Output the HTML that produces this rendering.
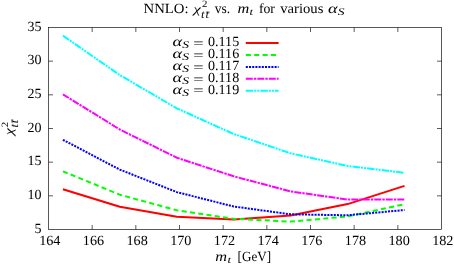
<!DOCTYPE html>
<html><head><meta charset="utf-8"><title>chart</title>
<style>
html,body{margin:0;padding:0;background:#fff;}
body{width:454px;height:266px;overflow:hidden;font-family:"Liberation Serif",serif;}
svg{display:block;will-change:transform;}
text{font-family:"Liberation Serif",serif;fill:#000;text-rendering:geometricPrecision;}
.i{font-style:italic;}
</style></head><body>
<svg width="454" height="266" viewBox="0 0 454 266">
<rect width="454" height="266" fill="#fff"/>

<g stroke="#000" stroke-width="0.65" fill="none">
<rect x="48.5" y="27.5" width="393.0" height="202.0"/>
<path d="M92.17 229.5v-4.5M92.17 27.5v4.5"/>
<path d="M135.83 229.5v-4.5M135.83 27.5v4.5"/>
<path d="M179.50 229.5v-4.5M179.50 27.5v4.5"/>
<path d="M223.17 229.5v-4.5M223.17 27.5v4.5"/>
<path d="M266.83 229.5v-4.5M266.83 27.5v4.5"/>
<path d="M310.50 229.5v-4.5M310.50 27.5v4.5"/>
<path d="M354.17 229.5v-4.5M354.17 27.5v4.5"/>
<path d="M397.83 229.5v-4.5M397.83 27.5v4.5"/>
<path d="M48.5 195.83h4.5M441.5 195.83h-4.5"/>
<path d="M48.5 162.17h4.5M441.5 162.17h-4.5"/>
<path d="M48.5 128.50h4.5M441.5 128.50h-4.5"/>
<path d="M48.5 94.83h4.5M441.5 94.83h-4.5"/>
<path d="M48.5 61.17h4.5M441.5 61.17h-4.5"/>
</g>
<polyline points="62.9,189.2 119.8,206.8 176.8,216.8 233.7,219.5 290.6,215.5 347.6,204.1 404.5,185.9" fill="none" stroke="#ff0000" stroke-width="2" stroke-linejoin="round"/>
<polyline points="62.9,171.3 119.8,194.7 176.8,210.3 233.7,218.8 290.6,221.6 347.6,216.4 404.5,204.3" fill="none" stroke="#00ff00" stroke-width="2" stroke-linejoin="round" stroke-dasharray="5.1 3.27"/>
<polyline points="62.9,139.8 119.8,169.6 176.8,192.1 233.7,206.5 290.6,214.3 347.6,215.3 404.5,210.0" fill="none" stroke="#0000ff" stroke-width="2" stroke-linejoin="round" stroke-dasharray="2.05 1.15"/>
<polyline points="62.9,94.3 119.8,129.5 176.8,157.7 233.7,176.3 290.6,191.4 347.6,199.5 404.5,199.5" fill="none" stroke="#ff00ff" stroke-width="2" stroke-linejoin="round" stroke-dasharray="7.0 1.05 2.4 1.05"/>
<polyline points="62.9,35.6 119.8,75.1 176.8,108.3 233.7,134.0 290.6,153.3 347.6,166.0 404.5,172.8" fill="none" stroke="#00ffff" stroke-width="2" stroke-linejoin="round" stroke-dasharray="7.4 1.05 2.0 1.05 2.0 1.1"/>
<path d="M245.8 43.1H278.6" fill="none" stroke="#ff0000" stroke-width="2"/>
<text x="172.6" y="46.1" font-size="14" textLength="9.6" lengthAdjust="spacingAndGlyphs" class="i">α</text>
<text x="182.2" y="48.2" font-size="10" textLength="6.8" lengthAdjust="spacingAndGlyphs" class="i">S</text>
<text x="193.2" y="47.8" font-size="14" textLength="10.4" lengthAdjust="spacingAndGlyphs">=</text>
<text x="208" y="46.1" font-size="14" textLength="31.2" lengthAdjust="spacingAndGlyphs">0.115</text>
<path d="M245.8 55.0H278.6" fill="none" stroke="#00ff00" stroke-width="2" stroke-dasharray="5.1 3.27"/>
<text x="172.6" y="58.0" font-size="14" textLength="9.6" lengthAdjust="spacingAndGlyphs" class="i">α</text>
<text x="182.2" y="60.1" font-size="10" textLength="6.8" lengthAdjust="spacingAndGlyphs" class="i">S</text>
<text x="193.2" y="59.7" font-size="14" textLength="10.4" lengthAdjust="spacingAndGlyphs">=</text>
<text x="208" y="58.0" font-size="14" textLength="31.2" lengthAdjust="spacingAndGlyphs">0.116</text>
<path d="M245.8 66.9H278.6" fill="none" stroke="#0000ff" stroke-width="2" stroke-dasharray="2.05 1.15"/>
<text x="172.6" y="69.9" font-size="14" textLength="9.6" lengthAdjust="spacingAndGlyphs" class="i">α</text>
<text x="182.2" y="72.0" font-size="10" textLength="6.8" lengthAdjust="spacingAndGlyphs" class="i">S</text>
<text x="193.2" y="71.6" font-size="14" textLength="10.4" lengthAdjust="spacingAndGlyphs">=</text>
<text x="208" y="69.9" font-size="14" textLength="31.2" lengthAdjust="spacingAndGlyphs">0.117</text>
<path d="M245.8 78.8H278.6" fill="none" stroke="#ff00ff" stroke-width="2" stroke-dasharray="7.0 1.05 2.4 1.05"/>
<text x="172.6" y="81.8" font-size="14" textLength="9.6" lengthAdjust="spacingAndGlyphs" class="i">α</text>
<text x="182.2" y="83.9" font-size="10" textLength="6.8" lengthAdjust="spacingAndGlyphs" class="i">S</text>
<text x="193.2" y="83.5" font-size="14" textLength="10.4" lengthAdjust="spacingAndGlyphs">=</text>
<text x="208" y="81.8" font-size="14" textLength="31.2" lengthAdjust="spacingAndGlyphs">0.118</text>
<path d="M245.8 90.7H278.6" fill="none" stroke="#00ffff" stroke-width="2" stroke-dasharray="7.4 1.05 2.0 1.05 2.0 1.1"/>
<text x="172.6" y="93.7" font-size="14" textLength="9.6" lengthAdjust="spacingAndGlyphs" class="i">α</text>
<text x="182.2" y="95.8" font-size="10" textLength="6.8" lengthAdjust="spacingAndGlyphs" class="i">S</text>
<text x="193.2" y="95.4" font-size="14" textLength="10.4" lengthAdjust="spacingAndGlyphs">=</text>
<text x="208" y="93.7" font-size="14" textLength="31.2" lengthAdjust="spacingAndGlyphs">0.119</text>
<text x="41.6" y="232.7" font-size="14" textLength="7" lengthAdjust="spacingAndGlyphs" text-anchor="end">5</text>
<text x="41.6" y="199.0" font-size="14" textLength="14" lengthAdjust="spacingAndGlyphs" text-anchor="end">10</text>
<text x="41.6" y="165.4" font-size="14" textLength="14" lengthAdjust="spacingAndGlyphs" text-anchor="end">15</text>
<text x="41.6" y="131.7" font-size="14" textLength="14" lengthAdjust="spacingAndGlyphs" text-anchor="end">20</text>
<text x="41.6" y="98.0" font-size="14" textLength="14" lengthAdjust="spacingAndGlyphs" text-anchor="end">25</text>
<text x="41.6" y="64.4" font-size="14" textLength="14" lengthAdjust="spacingAndGlyphs" text-anchor="end">30</text>
<text x="41.6" y="30.7" font-size="14" textLength="14" lengthAdjust="spacingAndGlyphs" text-anchor="end">35</text>
<text x="49.8" y="244.6" font-size="14" textLength="21.3" lengthAdjust="spacingAndGlyphs" text-anchor="middle">164</text>
<text x="93.5" y="244.6" font-size="14" textLength="21.3" lengthAdjust="spacingAndGlyphs" text-anchor="middle">166</text>
<text x="137.1" y="244.6" font-size="14" textLength="21.3" lengthAdjust="spacingAndGlyphs" text-anchor="middle">168</text>
<text x="180.8" y="244.6" font-size="14" textLength="21.3" lengthAdjust="spacingAndGlyphs" text-anchor="middle">170</text>
<text x="224.5" y="244.6" font-size="14" textLength="21.3" lengthAdjust="spacingAndGlyphs" text-anchor="middle">172</text>
<text x="268.1" y="244.6" font-size="14" textLength="21.3" lengthAdjust="spacingAndGlyphs" text-anchor="middle">174</text>
<text x="311.8" y="244.6" font-size="14" textLength="21.3" lengthAdjust="spacingAndGlyphs" text-anchor="middle">176</text>
<text x="355.5" y="244.6" font-size="14" textLength="21.3" lengthAdjust="spacingAndGlyphs" text-anchor="middle">178</text>
<text x="399.1" y="244.6" font-size="14" textLength="21.3" lengthAdjust="spacingAndGlyphs" text-anchor="middle">180</text>
<text x="442.8" y="244.6" font-size="14" textLength="21.3" lengthAdjust="spacingAndGlyphs" text-anchor="middle">182</text>
<text x="143.6" y="12.8" font-size="14" textLength="45" lengthAdjust="spacingAndGlyphs">NNLO:</text>
<text x="193.5" y="12.8" font-size="12" textLength="7.3" lengthAdjust="spacingAndGlyphs" class="i">χ</text>
<text x="202" y="7.3" font-size="9.6" textLength="5.4" lengthAdjust="spacingAndGlyphs">2</text>
<text x="201.1" y="18.4" font-size="11.5" textLength="3.5" lengthAdjust="spacingAndGlyphs" class="i">t</text>
<text x="205.4" y="18.4" font-size="11.5" textLength="3.5" lengthAdjust="spacingAndGlyphs" class="i">t</text>
<path d="M205.9 12.1h3.7" stroke="#000" stroke-width="0.6"/>
<text x="214.8" y="12.8" font-size="14" textLength="15.4" lengthAdjust="spacingAndGlyphs">vs.</text>
<text x="237.6" y="12.8" font-size="14" textLength="11.8" lengthAdjust="spacingAndGlyphs" class="i">m</text>
<text x="249.4" y="14.6" font-size="10" textLength="3.6" lengthAdjust="spacingAndGlyphs" class="i">t</text>
<text x="258.9" y="12.8" font-size="14" textLength="16" lengthAdjust="spacingAndGlyphs">for</text>
<text x="280.2" y="12.8" font-size="14" textLength="43.2" lengthAdjust="spacingAndGlyphs">various</text>
<text x="328" y="12.8" font-size="14" textLength="9.6" lengthAdjust="spacingAndGlyphs" class="i">α</text>
<text x="337.7" y="14.7" font-size="10" textLength="6.8" lengthAdjust="spacingAndGlyphs" class="i">S</text>
<text x="215.2" y="260.7" font-size="14" textLength="11.8" lengthAdjust="spacingAndGlyphs" class="i">m</text>
<text x="227.4" y="262.8" font-size="10" textLength="3.6" lengthAdjust="spacingAndGlyphs" class="i">t</text>
<text x="237.6" y="260.7" font-size="14" textLength="33.4" lengthAdjust="spacingAndGlyphs">[GeV]</text>
<g transform="translate(12.7,135.6) rotate(-90)">
<text x="0.4" y="0" font-size="12" textLength="7.3" lengthAdjust="spacingAndGlyphs" class="i">χ</text>
<text x="8.4" y="-5.2" font-size="9.6" textLength="5.4" lengthAdjust="spacingAndGlyphs">2</text>
<text x="8.0" y="5.6" font-size="11.5" textLength="3.5" lengthAdjust="spacingAndGlyphs" class="i">t</text>
<text x="12.3" y="5.6" font-size="11.5" textLength="3.5" lengthAdjust="spacingAndGlyphs" class="i">t</text>
<path d="M12.8 -0.7h3.7" stroke="#000" stroke-width="0.6"/>
</g>
</svg></body></html>
